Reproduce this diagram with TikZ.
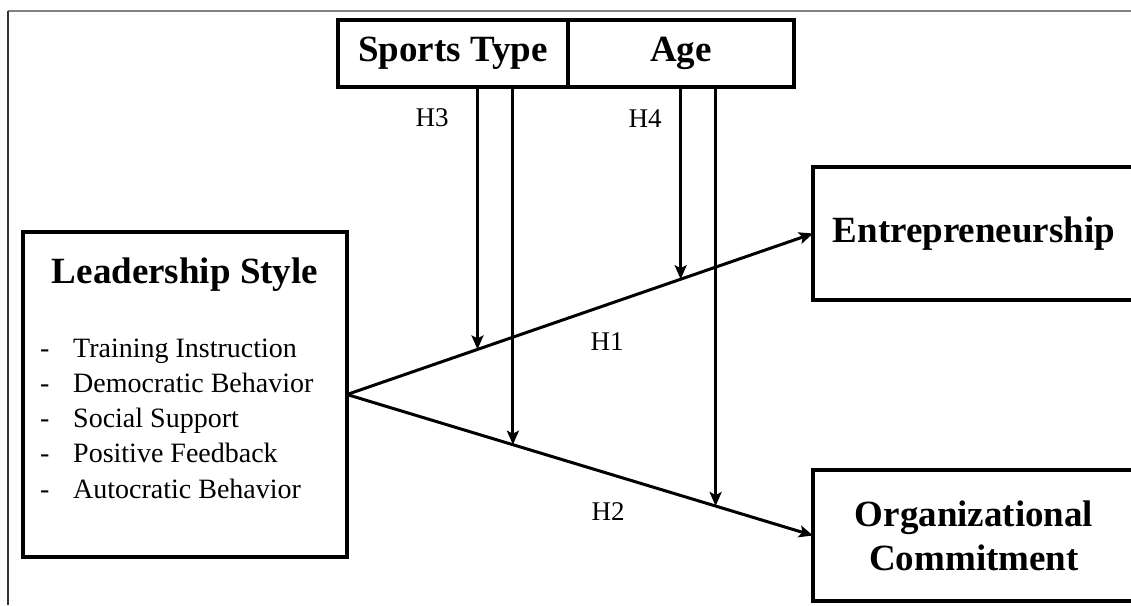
\documentclass[tikz,border=0pt]{standalone}
\usepackage{fontspec}
\setmainfont{Liberation Serif}
\usetikzlibrary{positioning,calc,arrows.meta}

\begin{document}
\begin{tikzpicture}[x=1pt,y=-1pt,
  box/.style={draw,line width=4pt,outer sep=0pt,inner sep=0pt},
  head/.style={font=\bfseries\fontsize{37}{44}\selectfont},
  item/.style={font=\fontsize{28}{34}\selectfont,inner sep=0pt,anchor=base west},
  hlab/.style={font=\fontsize{27}{32}\selectfont},
  arr/.style={line width=3pt,-{Stealth[length=14pt,width=12pt,inset=3pt]}}]
\useasboundingbox (0,0) rectangle (1131,605);
\draw[gray,line width=2pt] (8,11) -- (1131,11);
\draw[black!80,line width=1.2pt] (8,11) -- (8,605);
\node[box,minimum width=324pt,minimum height=325pt] (lead) at (185,394.5) {};
\node[head] (leadtitle) at (185,275) {Leadership Style};
\foreach \t [count=\i] in {Training Instruction,Democratic Behavior,Social Support,Positive Feedback,Autocratic Behavior}{
  \node[item] (dash\i) at (40,{321.7+35.3*\i}) {-};
  \node[item] (item\i) at (73,{321.7+35.3*\i}) {\t};
}
\node[box,head,minimum width=230pt,minimum height=67pt] (sports) at (453,53.5) {Sports Type};
\node[box,head,minimum width=226pt,minimum height=67pt,right=0pt of sports] (age) {Age};
\node[box,head,minimum width=322pt,minimum height=133pt] (ent) at (974,233.5) {Entrepreneurship};
\node[box,head,align=center,minimum width=322pt,minimum height=131pt] (org) at (974,535.5) {Organizational\\Commitment};
\draw[arr] (lead.east) -- (ent.west);
\draw[arr] (lead.east) -- (org.west);
\coordinate (m1) at ($(lead.east)!0.28!(ent.west)$);
\coordinate (m2) at ($(lead.east)!0.356!(org.west)$);
\coordinate (m3) at ($(lead.east)!0.716!(ent.west)$);
\coordinate (m4) at ($(lead.east)!0.791!(org.west)$);
\draw[arr] (sports.south -| m1) -- (m1);
\draw[arr] (sports.south -| m2) -- (m2);
\draw[arr] (age.south -| m3) -- (m3);
\draw[arr] (age.south -| m4) -- (m4);
\node[hlab] (h3) at (432,118) {H3};
\node[hlab] (h4) at (645,119) {H4};
\node[hlab] (h1) at (607,342) {H1};
\node[hlab] (h2) at (608,512) {H2};
\end{tikzpicture}
\end{document}
